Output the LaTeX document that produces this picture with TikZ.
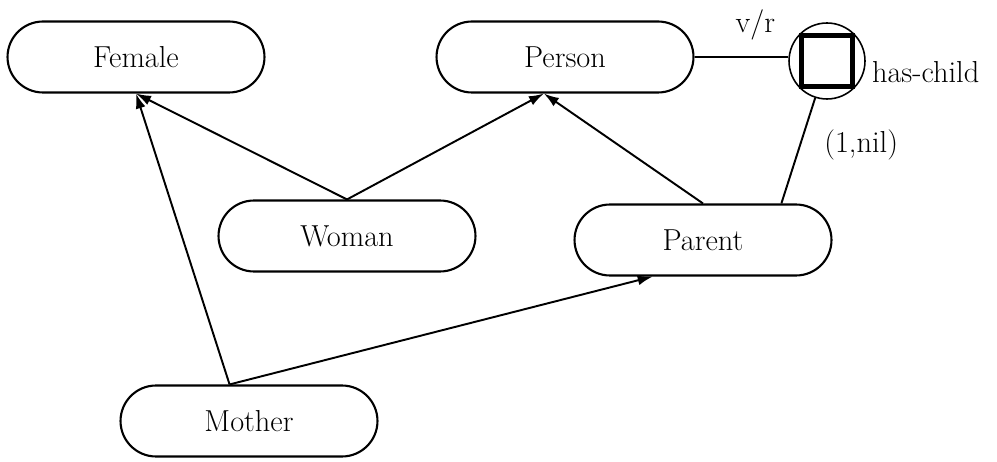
\documentclass[tikz,border=0pt]{standalone}
\usepackage{tikz}
\usepackage{amsmath}
\usetikzlibrary{positioning, arrows.meta}

\begin{document}
\begin{tikzpicture}[x=0.02cm, y=-0.02cm,
concept/.style={rectangle, line width=1.2pt, rounded corners=0.71cm, minimum width=5.14cm, minimum height=1.42cm, draw=black, font=\LARGE, inner sep=0pt},
role/.style={circle, line width=0.9pt, draw=black, minimum size=1.52cm, inner sep=0pt},
isa/.style={->, line width=1.1pt, -{Latex[length=3mm, width=2mm]}}
]
\useasboundingbox (0,0) rectangle (997,462);
\node[concept]     (female)                  at (136,57)  {Female};
\node[concept]     (person)                  at (565,57)  {Person};
\node[concept]     (woman)                   at (347,236) {Woman};
\node[concept]     (parent)                  at (703,240) {Parent};
\node[concept]     (mother)                  at (249,421) {Mother};
\node[role]        (haschild)                at (827,61)  {};
\node[draw, line width=2.4pt, minimum size=1.02cm, inner sep=0pt] (restr) at (haschild) {};
\node[font=\LARGE, right=0pt of haschild, yshift=-0.22cm] (rolename) {has-child};

\path[isa] (woman.north) edge (female.south);
\path[isa] (woman.north) edge (person.240);
\path[isa] (parent.north) edge (person.240);
\path[isa] (mother.118) edge (female.south);
\path[isa] (mother.118) edge (parent.216);
\draw[line width=1.1pt] (person.east) -- node[above=0.2cm, pos=0.65, font=\LARGE] (vr) {v/r} (haschild.west |- person.east);
\draw[line width=1.1pt] (haschild) -- node[right=0.35cm, pos=0.45, font=\LARGE] (card) {(1,nil)} (parent.25);
\end{tikzpicture}
\end{document}
